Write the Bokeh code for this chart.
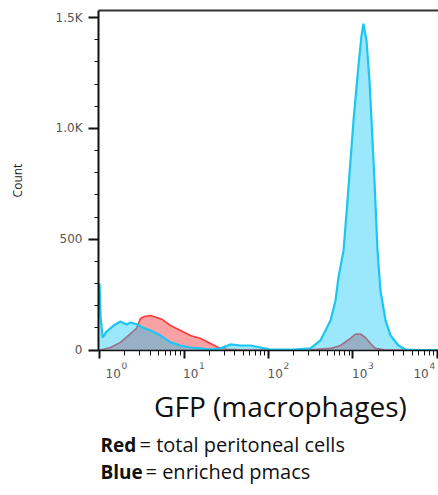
from bokeh.plotting import figure
from bokeh.layouts import column
from bokeh.models import (LinearAxis, FixedTicker, Label, Range1d,
                          CustomJSTickFormatter)
from bokeh.embed import file_html
from bokeh.resources import INLINE

# ---- data ----
blue_gfp = [1.0, 1.03, 1.09, 1.21, 1.47, 1.77, 2.09, 2.33, 2.82, 3.23,
            4.02, 5.27, 6.92, 9.10, 11.9, 15.7, 20.6, 27.0, 35.5, 46.7,
            61.2, 80.4, 106, 182, 314, 412, 542, 621, 673, 773,
            861, 1014, 1161, 1262, 1330, 1445, 1567, 1656, 1795, 1950,
            2113, 2427, 2780, 3451, 4178, 6295, 10000]
blue_count = [300, 150, 57, 84, 111, 129, 116, 125, 116, 102,
              89, 66, 35, 21, 12, 8, 3, 8, 26, 21,
              21, 12, 3, 2, 8, 44, 134, 224, 328, 450,
              675, 1036, 1283, 1419, 1473, 1396, 1216, 1036, 765, 450,
              269, 134, 66, 21, 3, 0, 0]

red_gfp = [1.0, 1.35, 1.77, 2.33, 2.74, 3.05, 3.41, 4.02, 4.73, 5.57,
           6.92, 9.10, 11.9, 15.7, 20.6, 25.6, 31.8, 46.7, 80.4, 182,
           314, 542, 711, 933, 1072, 1227, 1406, 1611, 1845, 2427,
           3648, 10000]
red_count = [0, 12, 35, 75, 98, 143, 152, 156, 147, 138,
             111, 89, 66, 53, 30, 12, 4, 2, 1, 1,
             2, 8, 21, 53, 72, 73, 57, 30, 8, 1,
             0, 0]

x_ticks = [1, 10, 100, 1000, 10000]
x_tick_base = "10"
x_tick_exponents = ["0", "1", "2", "3", "4"]
y_ticks = [0, 500, 1000, 1500]
y_tick_labels = ["0", "500", "1.0K", "1.5K"]
y_title = "Count"
x_title = "GFP (macrophages)"
legend_keys = ["Red", "Blue"]
legend_texts = ["= total peritoneal cells", "= enriched pmacs"]

W = 438
H1 = 362
H2 = 133

# ---- main plot ----
p = figure(width=W, height=H1, x_axis_type="log",
           x_range=Range1d(10 ** -0.012, 10 ** 4.012),
           y_range=Range1d(-1.5, 1532),
           output_backend="svg", toolbar_location=None,
           min_border_left=98, min_border_right=0,
           min_border_top=10, min_border_bottom=12)
p.outline_line_color = None
p.xgrid.grid_line_color = None
p.ygrid.grid_line_color = None

p.varea(x=red_gfp, y1=0, y2=red_count, fill_color="#F8A2A6", fill_alpha=1.0)
p.line(red_gfp, red_count, line_color="#FF3838", line_width=1.6)
p.varea(x=blue_gfp, y1=0, y2=blue_count, fill_color="#06C5F7", fill_alpha=0.4)
p.line(blue_gfp, blue_count, line_color="#1CC6F2", line_width=2.2)

minor_x = [k * 10 ** d for d in range(4) for k in range(2, 10)]
xa = p.xaxis[0]
xa.ticker = FixedTicker(ticks=x_ticks, minor_ticks=minor_x)
xa.formatter = CustomJSTickFormatter(code="return ''")
xa.major_label_text_font_size = "1px"
xa.major_label_standoff = 0
xa.axis_line_color = "#111111"
xa.axis_line_width = 1.5
xa.major_tick_line_color = "#111111"
xa.major_tick_line_width = 2
xa.major_tick_out = 8
xa.major_tick_in = 0
xa.minor_tick_line_color = "#111111"
xa.minor_tick_line_width = 1
xa.minor_tick_out = 5
xa.minor_tick_in = 0

minor_y = [v for v in range(0, 1501, 100) if v % 500 != 0]
ya = p.yaxis[0]
ya.ticker = FixedTicker(ticks=y_ticks, minor_ticks=minor_y)
ya.major_label_overrides = dict(zip(y_ticks, y_tick_labels))
ya.major_label_text_font = "DejaVu Sans"
ya.major_label_text_font_size = "12px"
ya.major_label_text_color = "#555555"
ya.major_label_standoff = 6
ya.axis_line_color = "#111111"
ya.axis_line_width = 2
ya.major_tick_line_color = "#111111"
ya.major_tick_line_width = 2
ya.major_tick_out = 10
ya.major_tick_in = 0
ya.minor_tick_line_color = "#111111"
ya.minor_tick_line_width = 1
ya.minor_tick_out = 4
ya.minor_tick_in = 0
ya.axis_label = y_title
ya.axis_label_text_font = "Open Sans"
ya.axis_label_text_font_size = "12px"
ya.axis_label_text_font_style = "normal"
ya.axis_label_text_color = "#222222"
ya.axis_label_standoff = 27

top = LinearAxis(ticker=FixedTicker(ticks=[]),
                 formatter=CustomJSTickFormatter(code="return ''"),
                 major_label_text_font_size="1px",
                 axis_line_color="#333333", axis_line_width=2,
                 major_tick_out=0, minor_tick_out=0, major_tick_in=0,
                 minor_tick_in=0, major_label_standoff=0)
p.add_layout(top, "above")

# ---- text area below (shares the x scale; y in pixels from its top) ----
q = figure(width=W, height=H2, x_axis_type="log", x_range=p.x_range,
           y_range=Range1d(H2, 0), output_backend="svg", title=None,
           toolbar_location=None, x_axis_location=None,
           y_axis_location=None, min_border_left=98, min_border_right=0,
           min_border_top=0, min_border_bottom=0)
q.outline_line_color = None
q.xgrid.grid_line_color = None
q.ygrid.grid_line_color = None

n = len(x_ticks)
for i, (t, e) in enumerate(zip(x_ticks, x_tick_exponents)):
    if i == 0:
        dx = 6
    elif i == n - 1:
        dx = -24
    else:
        dx = -1
    q.add_layout(Label(x=t, y=11, x_units="data", y_units="data",
                       text=x_tick_base, x_offset=dx,
                       text_font="DejaVu Sans", text_font_size="12px",
                       text_color="#555555", text_align="left",
                       text_baseline="alphabetic"))
    q.add_layout(Label(x=t, y=3, x_units="data", y_units="data",
                       text=e, x_offset=dx + 16,
                       text_font="DejaVu Sans", text_font_size="9px",
                       text_color="#555555", text_align="left",
                       text_baseline="alphabetic"))

q.add_layout(Label(x=182, y=43, x_units="screen", y_units="data",
                   text=x_title, text_align="center",
                   text_baseline="alphabetic",
                   text_font="Open Sans", text_font_size="28px",
                   text_color="#111111"))

key_widths = [41, 47]
rows_y = [82, 109]
for key, txt, kw, yy in zip(legend_keys, legend_texts, key_widths, rows_y):
    q.add_layout(Label(x=2, y=yy, x_units="screen", y_units="data",
                       text=key, text_font="Open Sans",
                       text_font_style="bold", text_font_size="19px",
                       text_color="#111111", text_baseline="alphabetic"))
    q.add_layout(Label(x=kw, y=yy, x_units="screen", y_units="data",
                       text=txt, text_font="Open Sans",
                       text_font_size="20px", text_color="#111111",
                       text_baseline="alphabetic"))

layout = column(p, q, spacing=0)
open("out.html", "w").write(file_html(layout, INLINE))
